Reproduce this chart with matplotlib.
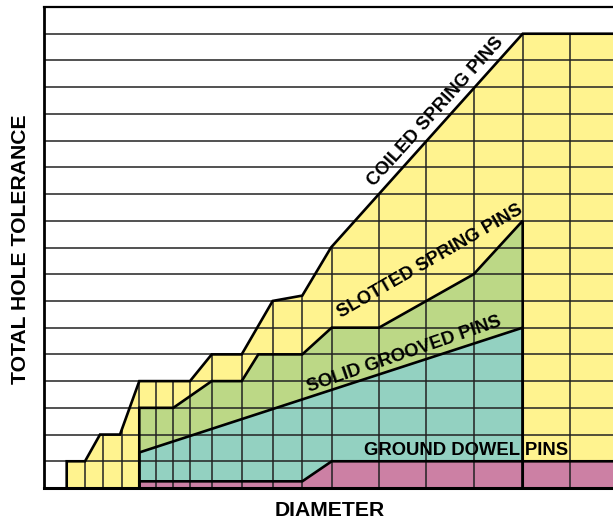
import numpy as np
import matplotlib.pyplot as plt

plt.rcParams['font.family'] = ['Liberation Sans', 'DejaVu Sans']

# diameter positions (arbitrary units) and tolerance heights (grid units)
x_max = 569
y_max = 18

coiled_x = [22.7, 22.7, 41, 56, 76, 95.3, 146, 167.7, 197.7, 228.7, 258.3, 287, 478.7, 569]
coiled_y = [0, 1, 1, 2, 2, 4, 4, 5, 5, 7, 7.2, 9, 17, 17]

slotted_x = [95.3, 95.3, 129.3, 167.7, 197.7, 214.3, 258.3, 287.7, 335, 429.7, 478.7, 478.7]
slotted_y = [0, 3, 3, 4, 4, 5, 5, 6, 6, 8, 10, 0]

grooved_x = [95.3, 95.3, 478.7, 478.7]
grooved_y = [0, 1.33, 6, 0]

dowel_x = [95.3, 95.3, 258.3, 287.7, 569]
dowel_y = [0, 0.25, 0.25, 1, 1]

grid_x = [41, 59.3, 77.7, 95.3, 112, 129.3, 146, 167.7, 197.7, 228.7, 258.3,
          287.7, 335, 382, 429.7, 478.7, 526.3]

colors = {'coiled': '#fff38f', 'slotted': '#bcd886', 'grooved': '#93d1c1', 'dowel': '#cc80a4'}

fig = plt.figure(figsize=(6.13, 5.21), dpi=100)
ax = fig.add_axes([44 / 613, 33 / 521, 569 / 613, 481 / 521])
ax.set_xlim(0, x_max)
ax.set_ylim(0, y_max)

# filled regions, back to front
ax.fill(coiled_x + [x_max], coiled_y + [0], color=colors['coiled'], lw=0, zorder=1)
ax.fill(slotted_x, slotted_y, color=colors['slotted'], lw=0, zorder=2)
ax.fill(grooved_x, grooved_y, color=colors['grooved'], lw=0, zorder=3)
ax.fill(dowel_x + [x_max], dowel_y + [0], color=colors['dowel'], lw=0, zorder=4)

# grid: horizontal across everything, vertical only under the coiled curve
ax.hlines(np.arange(1, y_max), 0, x_max, color='#222222', lw=1.1, zorder=5)
ax.vlines(grid_x, 0, np.interp(grid_x, coiled_x, coiled_y), color='#222222', lw=1.1, zorder=5)

# region outlines
for xs, ys in [(coiled_x, coiled_y), (slotted_x, slotted_y),
               (grooved_x, grooved_y), (dowel_x, dowel_y)]:
    ax.plot(xs, ys, color='black', lw=1.9, zorder=6, solid_joinstyle='miter')

# labels on the curves
lab = dict(fontsize=13.3, fontweight='bold', ha='center', va='center',
           rotation_mode='anchor', zorder=7)
ax.text(392, 14.07, 'COILED SPRING PINS', rotation=48, **lab)
ax.text(386.5, 8.5, 'SLOTTED SPRING PINS', rotation=30, **lab)
ax.text(360.3, 4.98, 'SOLID GROOVED PINS', rotation=19, **lab)
ax.text(422, 1.385, 'GROUND DOWEL PINS', rotation=0, **lab)

ax.set_xticks([])
ax.set_yticks([])
ax.spines['right'].set_visible(False)
ax.spines['left'].set_linewidth(2.0)
ax.spines['bottom'].set_linewidth(2.2)
ax.spines['top'].set_linewidth(1.6)
for s in ax.spines.values():
    s.set_zorder(8)

fig.text(21 / 613, 1 - 249 / 521, 'TOTAL HOLE TOLERANCE', rotation=90,
         fontsize=15.2, fontweight='bold', ha='center', va='center')
fig.text(330 / 613, 1 - 510 / 521, 'DIAMETER', fontsize=15.2, fontweight='bold',
         ha='center', va='center')

fig.savefig('out.png', dpi=100)
